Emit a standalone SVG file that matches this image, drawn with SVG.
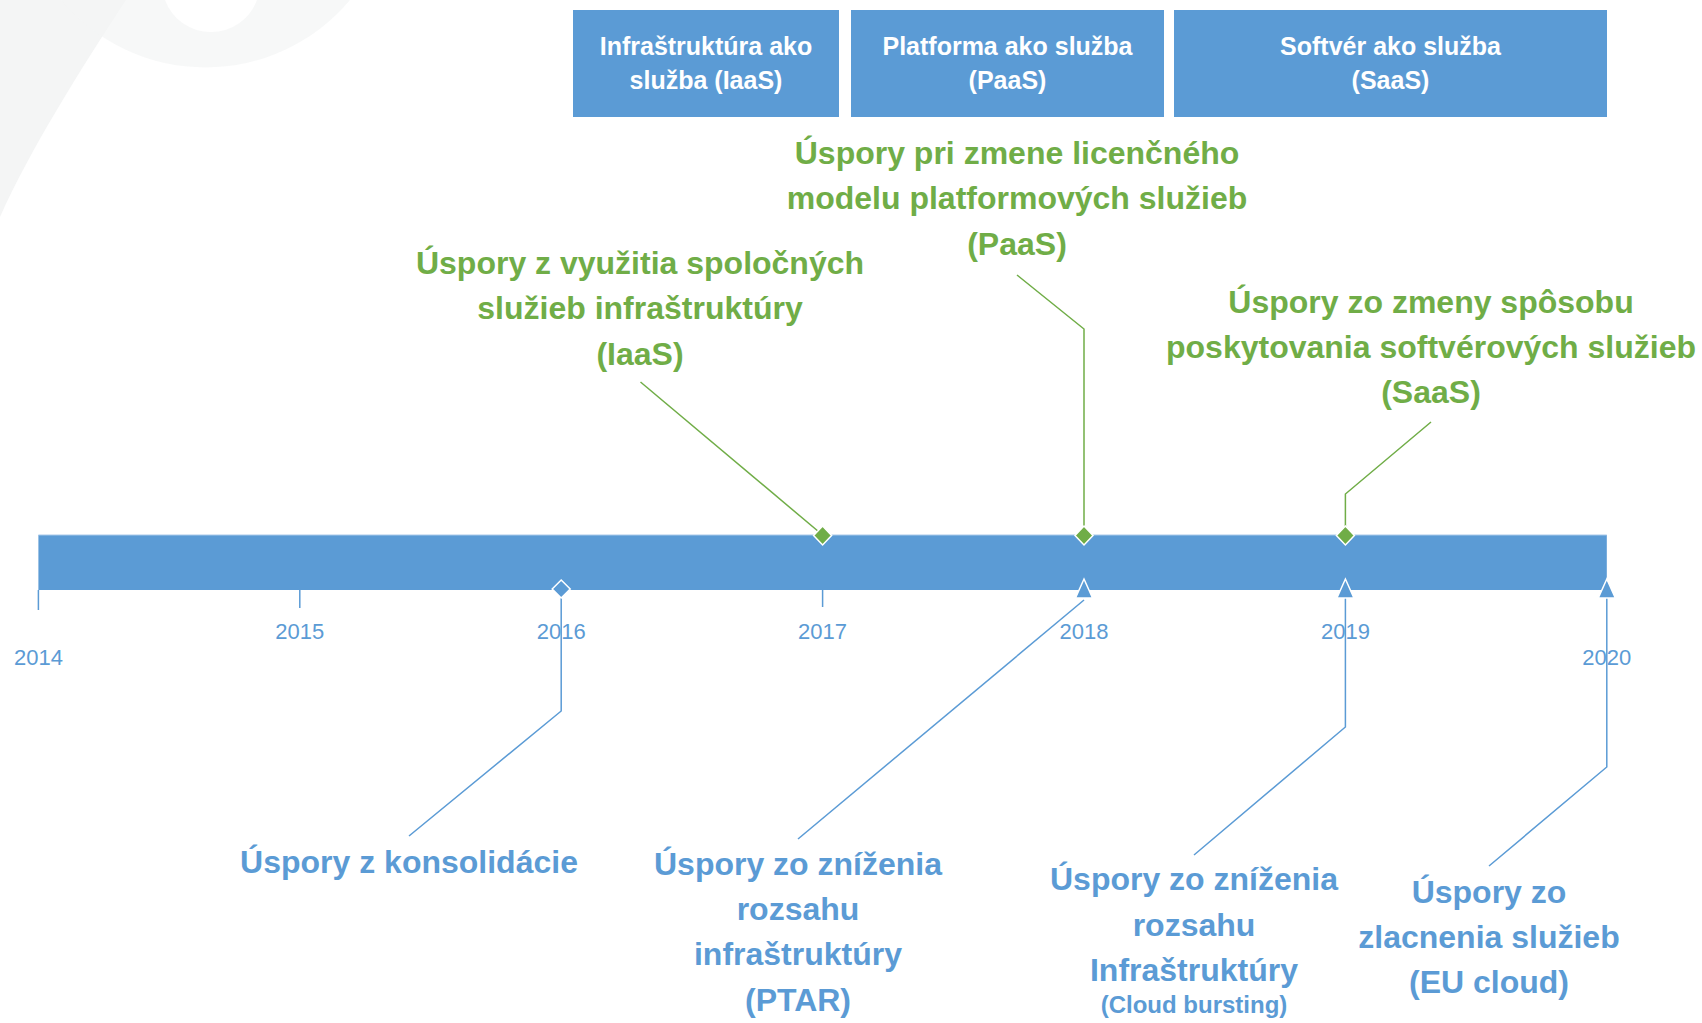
<svg xmlns="http://www.w3.org/2000/svg" width="1702" height="1023" viewBox="0 0 1702 1023">
<style>
.bg{fill:#f4f5f5}
.box{fill:#5B9BD5}
.boxt{font-family:"Liberation Sans",Arial,sans-serif;font-weight:bold;font-size:25px;fill:#ffffff;text-anchor:middle}
.gt{font-family:"Liberation Sans",Arial,sans-serif;font-weight:bold;font-size:32px;fill:#70AD47;text-anchor:middle}
.bt{font-family:"Liberation Sans",Arial,sans-serif;font-weight:bold;font-size:32px;fill:#5B9BD5;text-anchor:middle}
.bts{font-size:24px}
.yr{font-family:"Liberation Sans",Arial,sans-serif;font-size:22px;fill:#5B9BD5;text-anchor:middle}
.gl{fill:none;stroke:#70AD47;stroke-width:1.5}
.bl{fill:none;stroke:#5B9BD5;stroke-width:1.5}
.tick{stroke:#5B9BD5;stroke-width:1.5}
.gd{fill:#70AD47;stroke:#ffffff;stroke-width:1.5}
.bd{fill:#5B9BD5;stroke:#ffffff;stroke-width:1.5}
</style>
<rect width="1702" height="1023" fill="#ffffff"/>
<g id="background">
<path class="bg" d="M0,0 L126,0 C80,70 30,150 0,217 Z"/>
<path class="bg" d="M61,0 A188.6,188.6 0 0 0 350,0 L257,0 A49,49 0 0 1 165,0 Z" opacity="0.7"/>
</g>
<g id="box-iaas"><rect class="box" x="573" y="10" width="266" height="107"/><text class="boxt" x="706" y="55">Infraštruktúra ako</text><text class="boxt" x="706" y="89">služba (IaaS)</text></g>
<g id="box-paas"><rect class="box" x="851" y="10" width="313" height="107"/><text class="boxt" x="1007.5" y="55">Platforma ako služba</text><text class="boxt" x="1007.5" y="89">(PaaS)</text></g>
<g id="box-saas"><rect class="box" x="1174" y="10" width="433" height="107"/><text class="boxt" x="1390.5" y="55">Softvér ako služba</text><text class="boxt" x="1390.5" y="89">(SaaS)</text></g>
<g id="timeline">
<rect x="38.4" y="535" width="1568.4" height="55" fill="#5B9BD5"/>
<line x1="38.4" y1="535" x2="1606.8" y2="535" stroke="#a8c9ea" stroke-width="1"/>
<line class="tick" x1="38.4" y1="590" x2="38.4" y2="610"/>
<line class="tick" x1="299.8" y1="590" x2="299.8" y2="608"/>
<line class="tick" x1="822.6" y1="590" x2="822.6" y2="607"/>
<text class="yr" x="38.4" y="665">2014</text>
<text class="yr" x="299.8" y="639">2015</text>
<text class="yr" x="561.2" y="639">2016</text>
<text class="yr" x="822.6" y="639">2017</text>
<text class="yr" x="1084" y="639">2018</text>
<text class="yr" x="1345.4" y="639">2019</text>
<text class="yr" x="1606.8" y="665">2020</text>
</g>
<g id="connectors">
<polyline class="gl" points="640.5,382 822.6,535"/>
<polyline class="gl" points="1017,275 1084,329 1084,535"/>
<polyline class="gl" points="1431,422 1345.4,494 1345.4,535"/>
<polyline class="bl" points="561.2,598 561.2,711 409,836"/>
<polyline class="bl" points="1084,600 798,839"/>
<polyline class="bl" points="1345.4,598 1345.4,727 1194,855"/>
<polyline class="bl" points="1606.8,598 1606.8,767 1489,866"/>
</g>
<g id="markers">
<path class="gd" d="M822.6,526 L831.6,535.5 L822.6,545 L813.6,535.5 Z"/>
<path class="gd" d="M1084,526 L1093,535.5 L1084,545 L1075,535.5 Z"/>
<path class="gd" d="M1345.4,526 L1354.4,535.5 L1345.4,545 L1336.4,535.5 Z"/>
<path class="bd" d="M561.2,580 L570.2,589 L561.2,598 L552.2,589 Z"/>
<path class="bd" d="M1084,579 L1092.5,598 L1075.5,598 Z"/>
<path class="bd" d="M1345.4,579 L1353.9,598 L1336.9,598 Z"/>
<path class="bd" d="M1606.8,579 L1615.3,598 L1598.3,598 Z"/>
</g>
<g id="label-iaas"><text class="gt" x="640" y="274">Úspory z využitia spoločných</text><text class="gt" x="640" y="319">služieb infraštruktúry</text><text class="gt" x="640" y="365">(IaaS)</text></g>
<g id="label-paas"><text class="gt" x="1017" y="164">Úspory pri zmene licenčného</text><text class="gt" x="1017" y="209">modelu platformových služieb</text><text class="gt" x="1017" y="255">(PaaS)</text></g>
<g id="label-saas"><text class="gt" x="1431" y="313">Úspory zo zmeny spôsobu</text><text class="gt" x="1431" y="358">poskytovania softvérových služieb</text><text class="gt" x="1431" y="403">(SaaS)</text></g>
<g id="label-konsolidacia"><text class="bt" x="409" y="873">Úspory z konsolidácie</text></g>
<g id="label-ptar"><text class="bt" x="798" y="875">Úspory zo zníženia</text><text class="bt" x="798" y="920">rozsahu</text><text class="bt" x="798" y="965">infraštruktúry</text><text class="bt" x="798" y="1011">(PTAR)</text></g>
<g id="label-bursting"><text class="bt" x="1194" y="890">Úspory zo zníženia</text><text class="bt" x="1194" y="936">rozsahu</text><text class="bt" x="1194" y="981">Infraštruktúry</text><text class="bt bts" x="1194" y="1013">(Cloud bursting)</text></g>
<g id="label-eucloud"><text class="bt" x="1489" y="903">Úspory zo</text><text class="bt" x="1489" y="948">zlacnenia služieb</text><text class="bt" x="1489" y="993">(EU cloud)</text></g>
</svg>
